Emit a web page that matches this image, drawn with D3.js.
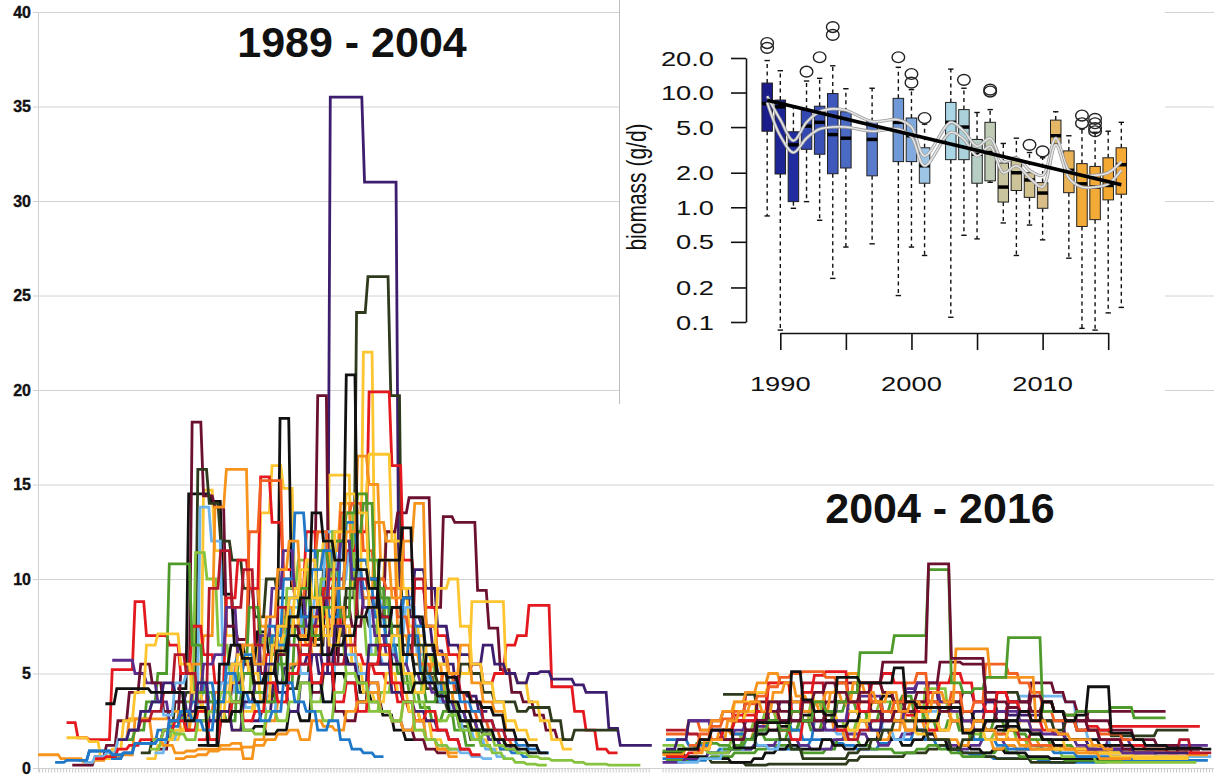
<!DOCTYPE html>
<html>
<head>
<meta charset="utf-8">
<script src="https://cdn.jsdelivr.net/npm/d3@7"></script>
<style>
  body { margin: 0; background: #fff; }
  svg { display: block; font-family: "Liberation Sans", Arial, Helvetica, sans-serif; }
</style>
</head>
<body>
<svg id="chart" width="1214" height="776"></svg>
<script>
// colour keys used by the line series
const colors = {
  mr: '#6b1031', dp: '#3d1d6e', pu: '#5b2e8e', dg: '#2e3a1c', bk: '#111111',
  rd: '#e3191f', cr: '#b3172b', or: '#f26122', og: '#f7941d', gd: '#fdc52f',
  lg: '#86c440', gr: '#4e9b2b', lb: '#6fb6ec', bl: '#1f78c8'
};

const yTicks = [0, 5, 10, 15, 20, 25, 30, 35, 40];
const titles = ['1989 - 2004', '2004 - 2016'];

// [colour, first week index, weekly values]
const leftSeries = [
  ['dp', 18.6, [2.5,3.0,4.5,5.3,5.5,6.0,5.0,35.5,35.5,35.5,31.0,31.0,31.0,9.5,8.0,7.5,6.2,5.5,4.0,3.8,3.0]],
  ['dg', 19.9, [3.8,4.5,4.2,5.0,6.8,7.5,7.0,9.0,24.1,26.0,26.0,19.7,6.5,5.5,4.8,3.5,3.0,2.2,1.5,1.2]],
  ['gd', 9.5, [0.5,1.2,1.5,2.0,3.0,14.7,11.5,7.0,6.0,5.0,13.5,16.0,14.8,9.0,6.5,8.0,15.5,15.5,9.5,22.0,10.0,12.5,9.5,7.5,6.0,5.5,4.0,3.0,2.5,1.5,1.0]],
  ['bk', 12.2, [4.2,14.5,14.5,14.1,9.2,6.5,5.5,7.2,6.0,18.5,9.5,8.0,6.5,10.5,6.0,5.5,4.0,3.5,2.8,2.0,1.5]],
  ['mr', 10.5, [1.0,2.5,5.0,18.3,14.4,13.8,7.5,6.8,9.5,5.0,6.5,8.0,7.0,10.5,19.7,5.5,8.5,7.5,9.0,8.0,12.5,13.5,14.3,14.3,8.5,13.3,13.0,13.0,9.4,7.4,5.2,4.0,3.5,2.8,2.0,1.5]],
  ['dg', 9, [0.8,1.5,2.0,3.5,4.0,15.8,14.0,12.0,11.0,9.5,8.0,10.0,9.0,7.5,6.0,8.0,10.5,9.5,11.0,8.0,7.5,5.5,6.5,4.5,5.0,4.2,3.5,3.0,2.5,2.0,1.8,1.5,1.0]],
  ['lb', 10.2, [0.8,1.5,2.0,3.0,13.8,12.0,5.5,4.0,3.2,3.5,5.0,6.5,8.5,7.0,9.0,12.5,10.0,11.5,9.0,6.0,5.5,7.0,8.5,6.0,4.5,3.5,2.8,2.0,1.5,1.0,0.6]],
  ['lg', 9.8, [1.0,1.5,2.5,3.5,11.4,10.0,6.5,5.0,4.0,6.5,7.0,6.0,9.5,11.0,8.5,10.0,12.5,13.5,8.0,6.0,9.0,7.5,5.0,4.0,6.0,4.5,3.5,2.5,2.0,1.2,0.8,0.5,0.3,0.2,0.15]],
  ['og', 6.5, [0.6,0.7,2.6,2.6,2.6,3.0,2.0,5.5,7.0,13.8,15.8,15.8,9.5,7.5,6.0,8.5,7.0,6.5,9.0,11.5,14.0,10.5,9.0,13.0,12.0,7.0,6.0,5.0,5.5,4.0,3.0,2.5,2.0,1.5,1.0]],
  ['rd', 2.5, [2.4,1.6,1.5,1.5,5.2,5.2,8.8,7.0,7.0,6.5,5.0,7.5,6.0,4.5,9.0,11.0,9.5,15.4,13.0,10.5,9.5,12.5,8.0,10.0,7.5,6.0,5.5,5.0,4.5,3.5,3.0,2.5,2.0]],
  ['rd', 14, [1.5,2.5,3.0,3.5,5.0,4.5,6.0,7.5,8.0,6.5,7.0,9.5,10.0,11.5,12.5,19.9,19.9,16.0,11.0,9.5,8.5,7.0,6.0,5.0,5.5,4.5,5.0,6.5,7.0,8.6,8.6,4.3,4.3,3.0,2.0,1.0,0.8]],
  ['or', 14.5, [3.0,4.0,5.0,6.5,12.5,15.2,15.2,10.0,9.0,11.0,12.5,7.5,13.5,14.0,11.5,10.0,9.5,8.0,7.0,5.5,4.5,5.0,4.0,3.0,2.5,2.0,1.5,1.2]],
  ['gd', 17, [2.0,3.0,4.5,5.0,7.0,7.5,9.0,10.5,12.0,11.0,13.0,14.5,16.6,16.6,12.0,9.5,7.0,6.0,5.5,4.5,5.0,8.8,8.8,8.8,5.0,4.5,3.5,2.5,1.5,1.0]],
  ['gr', 7.5, [1.5,2.0,3.5,5.0,10.8,10.8,6.5,4.0,3.0,2.5,5.5,8.5,7.0,6.0,4.5,7.5,9.0,11.5,10.5,8.0,12.5,14.0,9.5,6.5,5.0,4.0,3.2,2.5,3.0,2.0,1.2]],
  ['bl', 3.5, [0.4,0.9,0.9,0.5,0.8,1.3,1.3,2.0,2.2,3.0,3.5,4.5,3.5,5.5,6.0,5.5,4.5,7.0,10.0,13.5,11.5,9.0,8.0,12.0,10.5,9.5,8.0,6.5,5.5,7.0,5.0,4.5,3.5,3.0,2.5,2.0,1.5,1.0,0.8,0.6]],
  ['pu', 6.5, [5.7,5.7,5.0,4.5,3.5,2.5,2.8,4.0,5.5,6.0,8.5,6.0,5.0,7.0,9.5,11.5,9.0,7.5,8.5,10.5,12.0,10.0,8.5,7.0,6.0,5.5,5.0,4.5,4.0,3.5,3.0,2.5,2.0,1.5,1.2,1.0]],
  ['dp', 30, [7.0,8.5,9.0,10.5,9.5,7.5,6.5,6.0,5.5,6.5,5.5,5.0,4.5,5.0,5.1,4.7,4.7,4.4,4.0,4.0,2.1,1.2,1.2,1.2]],
  ['dg', 25, [5.0,6.5,9.5,11.0,10.0,8.0,7.5,9.0,6.5,5.0,4.5,4.0,5.5,5.0,4.0,3.5,3.5,3.0,3.2,3.2,2.5,1.5,2.0,2.0,2.0,2.0]],
  ['lg', 24, [3.5,5.0,6.5,5.0,4.5,3.0,4.0,5.5,4.5,3.5,3.0,2.5,2.8,2.0,1.5,1.8,1.2,1.0,0.8,0.6,0.5,0.4,0.4,0.3,0.2,0.2,0.15,0.15,0.15]],
  ['mr', 3, [0.15,0.15,0.6,1.2,2.5,4.0,5.5,4.5,3.0,3.5,2.0,2.5,1.5,3.0,4.5,5.5,4.0,3.5,6.0,7.5,6.0,4.0,5.0,3.0,2.5,3.5,4.5,3.0,2.5,2.0,1.5,1.0,0.8]],
  ['og', 0, [0.7,0.7,0.5,0.5,0.3,0.4,0.8,1.5,2.6,2.6,1.5,1.2,0.8,0.9,1.0,1.0,1.2,1.3,0.5,1.5,2.5,3.5,5.5,7.0,6.0,7.5,8.5,6.5,5.0,4.5,3.0,2.5,3.5,2.0,1.5,1.0,0.6]],
  ['gd', 2.5, [1.6,1.6,1.4,0.5,1.0,2.5,4.0,6.5,7.1,7.1,5.5,4.0,3.0,2.5,4.5,6.0,5.0,3.5,6.5,7.0,9.5,11.0,8.5,6.5,7.5,5.5,4.0,3.5,5.0,4.0,3.0,2.5,1.5,1.0]],
  ['lb', 4, [0.3,0.6,0.8,1.5,2.0,3.0,3.5,2.8,4.5,5.0,3.5,3.0,4.5,5.5,4.0,3.5,3.0,4.5,6.5,5.0,4.5,3.5,5.5,6.0,5.0,4.0,3.0,2.5,2.0,2.5,1.5,1.2,1.0,0.8,0.6,0.5]],
  ['bl', 12, [2.5,3.0,4.5,3.5,2.5,3.5,6.0,5.5,7.5,6.5,9.0,8.0,10.5,11.5,9.5,13.0,11.0,10.0,8.5,7.0,9.0,7.5,6.0,5.0,4.5,3.5,3.0,2.5,2.0,1.5,1.2,1.0,0.8]],
  ['cr', 8, [2.0,2.5,3.0,4.0,6.0,5.0,3.5,9.5,11.5,8.5,10.5,6.5,5.0,8.5,6.5,5.5,7.5,9.0,5.5,6.5,10.0,9.0,8.0,7.0,6.0,10.0,7.5,6.0,5.0,4.0,3.5,2.5,2.0,1.5]],
  ['og', 16, [4.0,5.5,6.5,5.5,8.0,10.5,12.0,9.5,8.0,7.0,9.5,12.5,16.5,15.0,11.0,9.0,12.0,14.0,7.5,6.0,5.0,6.5,4.5,3.5,3.0,2.0]],
  ['gr', 13, [3.0,4.0,3.5,2.5,3.5,5.0,4.0,3.5,5.5,8.0,9.5,7.0,8.5,12.0,13.5,14.5,11.0,9.0,7.0,5.0,4.5,3.5,4.0,3.0,2.5,2.0,2.0]],
  ['gd', 11, [1.5,2.0,3.0,2.0,1.5,3.5,5.5,4.0,3.0,5.0,7.5,9.0,10.5,9.0,7.0,12.5,14.5,13.5,8.5,6.0,7.0,5.0,4.0,6.5,9.5,10.0,7.5,5.5,4.5,3.5,2.5,2.0,1.5]],
  ['bk', 14, [1.2,1.2,2.5,3.0,2.0,2.2,1.8,2.0,3.0,2.5,4.5,3.5,5.0,4.5,3.5,5.5,6.5,5.5,4.0,4.5,6.0,5.0,3.5,3.0,2.5,2.0,1.5,1.2,1.0,0.8]],
  ['dp', 7, [1.5,2.0,3.0,3.5,4.5,4.0,3.0,4.5,2.5,3.0,2.0,3.5,4.5,5.5,4.0,3.0,4.5,6.0,5.0,7.5,5.5,4.5,6.5,5.5,4.0,3.5,3.0,2.5,2.0,1.5,1.0]],
  ['rd', 5, [0.5,0.6,1.0,1.2,1.5,1.5,2.0,2.5,2.0,3.0,1.5,2.5,3.5,2.5,3.0,4.5,3.5,5.0,6.0,4.5,5.5,3.5,4.5,3.0,5.5,6.5,4.5,3.5,2.5,3.0,2.0,1.5,1.0,0.7]],
  ['og', 12, [0.5,0.6,0.7,0.9,1.0,1.0,1.1,1.2,1.5,1.8,2.0,1.5,2.5,2.2,2.0,3.0,3.5,4.0,3.0,2.5,2.0,2.5,1.5,1.0,0.8]],
  ['lg', 10, [1.5,2.0,1.8,1.5,2.5,3.0,4.0,3.5,2.0,1.8,3.0,2.5,3.5,4.5,3.0,2.5,4.0,5.0,4.5,3.5,3.0,2.5,3.5,2.0,1.5,1.2,1.0]],
  ['bl', 1.5, [0.3,0.4,0.4,0.9,0.9,0.7,0.8,1.3,1.3,1.5,2.5,3.0,2.5,2.0,3.5,5.0,4.0,3.5,2.5,3.0,4.5,3.5,3.0,2.0,2.5,1.5,1.0,0.8,0.6]],
  ['bk', 16, [2.5,3.0,4.0,3.5,5.0,4.5,8.0,9.0,13.5,12.0,11.0,20.8,10.5,9.5,7.5,8.5,6.0,5.0,4.5,3.8,3.0,2.5,2.0]],
  ['bk', 5.9, [3.4,4.2,4.2,4.2,4.0,4.0,4.0,2.5,3.2,1.2,5.5,6.5,5.8,4.5,5.0,6.2,7.0,6.8,8.5,6.0,6.5,7.0,8.0,8.5,11.0,11.0,12.7,8.0,6.5,5.0,4.8,4.0,3.5,3.2,2.8,2.0,1.5,1.2,0.8]]
];

const rightSeries = [
  ['bl', 54.7, [0.5,0.5,0.4,0.4,0.8,1.0,1.0,1.0,1.2,1.2,1.0,1.0,1.2,1.5,1.5,1.3,1.2,1.0,1.0,1.3,1.5,1.5,2.0,1.5,1.2,1.0,0.8,0.7,0.6,0.5,0.5,0.5,0.5,0.4,0.3,0.3,0.3,0.3,0.3,0.4,0.4,0.4,0.4,0.4,0.4,0.4,0.4,0.4]],
  ['dg', 58, [0.5,0.3,0.3,0.3,0.15,0.15,0.2,0.2,0.2,0.2,0.2,0.2,0.2,0.4,0.6,0.6,0.6,0.6,0.8,0.8,1.0,1.2,1.0,0.8,0.8,0.6,0.5,0.5,0.5,0.3,0.3,0.3,0.3,0.4,0.4,0.5,0.5,0.5,0.5]],
  ['gr', 55, [0.4,0.4,0.5,0.5,0.6,0.6,0.8,0.8,1.0,1.2,1.2,1.0,0.8,0.8,1.0,1.5,1.5,1.2,1.0,1.0,0.8,0.8,1.0,1.2,1.0,0.8,0.6,0.6,0.8,1.0,0.8,0.6,0.5,0.5,0.5,0.4,0.4,0.4,0.4,0.4,0.5,0.5,0.5,0.5,0.5,0.5]],
  ['pu', 54.7, [0.3,0.3,0.5,0.5,0.8,0.8,1.0,1.0,1.2,1.2,1.5,1.5,1.2,1.0,1.0,1.5,1.8,1.8,1.5,1.2,1.5,1.8,2.0,1.8,1.5,1.2,1.0,1.2,1.5,1.5,1.2,1.0,1.0,1.2,1.2,1.2,1.0,1.0,1.0,1.5,1.5,1.2,1.2,1.2,1.2,1.2,1.2,1.2]],
  ['bk', 54.7, [0.8,0.8,0.6,0.6,0.5,0.5,0.3,0.3,0.5,0.8,1.0,1.2,1.0,1.0,1.5,1.2,1.0,1.2,1.5,2.0,1.5,1.2,1.5,1.8,1.5,1.0,1.2,1.0,0.8,1.0,0.8,0.8,0.6,0.6,0.5,0.5,0.5,0.5,0.5,0.5,0.5]],
  ['lb', 56, [0.3,0.3,0.5,0.5,1.0,1.0,1.5,1.2,1.0,1.5,2.0,2.5,2.0,2.0,1.8,1.5,2.0,2.5,2.0,1.5,2.0,2.5,3.0,3.5,3.0,2.5,2.0,2.5,3.0,3.5,3.8,3.8,3.8,3.8,3.5,2.0,1.5,1.5,1.0,1.0,0.8,0.8,0.6,0.6,0.6,0.6,0.6]],
  ['og', 54.7, [0.7,0.7,1.0,1.0,1.5,2.0,1.8,1.5,2.0,3.0,2.5,2.0,2.5,3.5,3.0,2.0,1.5,2.5,2.0,1.5,2.0,3.0,2.5,2.0,1.5,1.5,1.2,2.0,1.5,1.0,1.2,1.0,1.5,1.2,1.0,1.2,1.0,1.0,0.8,0.8,0.8,1.0,1.0,1.0,1.0,1.0,0.7,0.7]],
  ['lg', 54.7, [1.2,1.2,1.0,1.0,0.8,0.8,1.5,2.0,2.5,3.0,2.5,2.0,2.5,3.5,3.0,2.5,2.0,2.5,3.0,3.5,3.5,3.0,2.5,4.2,4.2,3.0,2.0,1.8,1.5,1.8,2.0,1.5,1.2,1.0,1.0,0.6,0.6,0.6,0.3,0.3,0.3,0.3,0.3,0.3,0.3,0.3,0.3]],
  ['gr', 54.7, [0.9,0.9,1.0,1.3,1.3,1.2,1.0,1.5,1.8,1.5,1.5,2.0,2.5,2.0,2.5,3.0,3.5,3.0,2.5,3.0,3.5,3.8,3.0,2.5,2.0,2.5,2.0,1.5,2.0,2.5,2.0,1.8,1.5,1.5,1.2,1.2,1.0,1.0,0.8,0.8,0.8,0.8]],
  ['cr', 55, [2.0,2.0,1.8,1.5,2.5,3.0,2.5,4.0,4.0,2.5,2.0,3.0,4.5,4.5,2.5,2.0,1.5,2.0,2.5,3.0,2.5,2.0,3.5,4.0,3.0,2.5,2.0,2.5,3.5,3.0,2.0,1.5,2.0,1.5,1.2,1.0,1.0,1.0,1.0,1.0,0.8,0.8,0.8,0.8,0.8,1.5,0.8,0.8]],
  ['bl', 55, [1.5,1.5,1.2,1.2,1.5,2.0,1.8,1.5,2.0,2.5,2.5,2.0,1.5,2.5,3.0,3.5,3.0,2.5,2.0,2.5,3.0,2.5,2.0,2.5,3.0,2.5,2.0,1.5,1.5,1.2,1.0,1.0,1.2,1.0,0.8,0.8,0.6,0.6,0.6,0.6,0.5,0.5,0.5,0.5,0.5,0.5]],
  ['rd', 55, [0.6,0.6,0.8,1.0,1.5,2.0,2.8,2.8,2.5,3.0,2.0,1.5,2.5,3.5,2.5,2.0,3.0,4.5,3.5,2.5,3.0,2.8,2.5,2.0,3.5,3.0,2.5,2.0,2.5,3.0,3.5,3.0,2.5,2.0,1.8,2.5,2.5,2.0,1.5,1.5,1.2,1.2,1.0,1.0,0.8,0.8,0.8]],
  ['or', 55, [1.8,1.8,2.5,2.0,1.5,2.0,2.5,3.0,2.5,2.0,2.5,3.0,2.5,2.0,3.0,3.5,3.0,3.5,4.5,4.0,3.0,2.5,3.0,2.5,2.0,2.5,3.0,2.5,2.0,1.8,1.5,1.5,1.2,1.2,1.0,1.0,1.0,0.8,0.8,1.2,1.2,0.8,0.8,0.8,0.8,0.8]],
  ['dp', 55, [1.0,1.5,2.5,2.5,2.0,1.5,1.5,1.5,2.5,3.0,3.5,3.0,2.5,2.0,2.5,3.5,3.0,2.5,2.0,3.0,2.5,4.0,4.5,4.0,3.0,2.5,2.5,3.0,3.5,3.0,2.8,2.8,2.8,2.5,2.5,1.5,1.5,1.2,1.2,1.0,1.0,0.8,0.8,0.8,0.8,0.8]],
  ['gd', 58, [1.0,1.5,2.0,3.5,3.5,4.0,4.5,4.5,3.5,3.0,2.5,3.0,3.5,3.0,2.5,3.5,4.0,3.0,2.5,3.0,2.5,3.5,2.5,2.0,2.5,2.0,1.5,2.0,2.5,2.0,1.5,1.5,1.0,1.0,1.2,1.0,0.8,0.8,0.5,0.5,0.5,0.5,0.5]],
  ['gd', 60, [2.0,2.5,3.0,3.5,3.0,2.5,3.0,4.0,3.5,3.0,2.5,2.0,2.5,3.5,4.0,3.0,2.0,1.8,2.5,2.0,3.0,2.5,2.0,1.5,1.5,1.5,1.2,1.0,1.0,1.0,1.0,0.8,0.8,0.8,0.6,0.6,0.6,0.6,0.6,0.6,0.6]],
  ['pu', 57, [2.5,2.5,2.0,1.5,2.0,2.5,2.2,2.0,2.5,3.5,3.0,2.5,2.0,2.5,3.5,3.8,3.8,3.0,2.5,4.2,4.5,4.5,3.5,3.0,2.5,2.0,2.5,3.0,3.0,2.5,2.0,1.8,1.8,1.5,1.2,1.0,1.0,1.0,0.8,0.8,0.8]],
  ['dg', 60, [3.9,3.9,3.9,3.0,2.5,1.5,1.0,0.5,0.5,0.5,0.5,0.8,1.0,1.5,2.0,2.5,2.5,2.0,1.5,1.5,1.0,1.5,2.0,2.5,4.0,4.0,3.5,3.0,2.5,2.0,2.5,2.0,2.0,2.0,1.7,1.7,1.7,1.7,2.0,2.0,2.0]],
  ['bk', 62, [1.5,1.8,2.0,2.2,2.5,2.8,3.0,2.5,2.2,2.5,3.0,3.5,3.8,3.5,3.0,2.5,2.5,3.0,3.5,3.0,2.5,2.0,2.2,2.5,2.0,1.8,1.5,1.5,1.5,1.5,1.5,1.2,1.2,1.2,1.0,1.0,1.0,1.0,1.0,1.0]],
  ['og', 58, [2.0,2.5,3.0,3.5,4.0,4.5,5.0,4.5,3.5,3.0,3.5,4.0,4.5,5.0,4.0,3.5,3.0,2.5,2.0,3.0,3.5,3.0,2.5,2.0,2.5,2.0,1.5,1.5,1.2,1.0,1.0,1.2,1.0,0.8,0.8,0.5,0.5,0.5]],
  ['mr', 57, [1.0,1.5,1.5,2.0,2.5,2.0,3.5,3.0,2.5,3.0,3.5,2.5,3.0,3.5,4.0,4.5,4.5,4.0,3.5,3.0,3.5,4.5,5.6,5.6,5.5,5.5,4.0,4.0,3.5,3.5,3.0,3.5,3.0,2.8,2.5,3.0,3.0,3.0,3.0,3.0,3.0,3.0]],
  ['mr', 62, [2.0,2.5,3.5,3.5,3.0,2.5,3.0,3.5,4.5,4.5,3.5,3.0,2.5,3.0,3.5,4.0,3.5,3.0,3.5,4.0,3.5,3.0,2.5,3.5,3.5,4.5,4.5,4.0,3.5,3.0,2.5,2.5,2.0,2.0,1.5,1.5,1.2,1.2,1.0,1.0]],
  ['rd', 58, [1.5,1.5,2.0,2.5,2.5,3.0,4.5,4.5,3.0,4.0,4.9,5.1,5.1,3.5,3.0,4.5,5.0,4.5,3.5,3.0,4.0,4.5,5.0,4.5,3.5,3.0,4.0,3.5,3.0,2.5,3.5,3.0,2.5,2.0,2.2,2.0,2.2,2.2,2.2,2.2,2.2,2.2,2.2,2.2]],
  ['or', 57, [1.2,1.8,2.2,2.6,3.0,3.4,3.8,4.3,4.8,5.0,5.1,5.1,4.8,4.5,3.5,4.0,3.5,3.0,3.5,4.5,5.0,3.5,3.2,4.0,3.0,3.5,5.5,5.5,5.0,4.5,4.0,3.0,2.5,2.5,2.0,2.0,1.8,1.8,1.5,1.5]],
  ['og', 57.4, [0.8,1.5,1.5,2.5,3.0,3.5,3.0,4.0,4.5,3.8,3.5,3.0,4.0,3.5,4.5,4.0,3.5,4.0,3.0,3.5,3.0,4.0,3.5,6.3,6.3,6.3,4.8,4.8,4.8,4.8,2.5,2.0,1.8,1.5,1.5,1.2,1.0]],
  ['gr', 60, [1.0,1.2,1.5,2.0,2.5,2.0,3.0,2.5,3.5,3.0,3.5,4.0,6.1,6.1,6.1,7.0,7.0,7.0,10.5,10.5,4.5,4.0,4.2,4.8,4.8,6.9,6.9,6.9,3.0,3.0,2.8,3.0,3.0,3.0,3.2,3.2,2.65,2.65,2.65]],
  ['mr', 60, [1.5,1.5,2.0,2.5,3.5,3.0,2.5,3.5,4.0,4.5,4.0,3.5,4.0,4.5,5.6,5.6,5.6,5.6,10.8,10.8,5.8,5.8,5.8,3.6,3.5,3.2,3.0,3.8,3.5,3.0,2.5,2.5,2.0,1.5,1.5,1.0]],
  ['bk', 56, [1.0,1.0,1.5,2.0,2.0,1.06,1.06,2.4,2.4,2.4,5.1,3.6,3.0,2.8,4.8,4.8,4.5,4.5,4.5,5.3,3.5,3.2,3.2,3.2,3.2,1.85,2.0,2.5,2.5,2.2,2.0,1.8,1.5,1.2]],
  ['bk', 84, [2.0,2.5,3.0,2.5,3.5,3.0,2.5,2.8,4.3,4.3,1.85,1.85,1.5,1.2,1.2,1.05,1.05,1.05,1.0]]
];

// inset box plot: biomass (g/d) per year
const insetYears = [1989,1990,1991,1992,1993,1994,1995,1997,1999,2000,2001,2003,2004,2005,2006,2007,2008,2009,2010,2011,2012,2013,2014,2015,2016];
const boxLow  = [0.84,0.085,0.98,1.12,0.77,0.24,0.45,0.48,0.17,0.45,0.38,0.11,0.57,0.53,1.65,0.73,0.38,0.70,0.52,3.5,0.36,0.088,0.085,0.12,0.134];
const boxQ1   = [4.6,1.95,1.12,3.2,2.9,1.96,2.2,1.88,2.5,2.5,1.62,2.6,2.6,1.62,1.7,1.11,1.4,1.22,0.98,3.6,1.34,0.68,0.78,1.16,1.3];
const boxMed  = [8.0,7.5,3.5,5.1,5.5,4.3,4.0,3.9,5.5,4.2,2.3,5.5,5.0,2.9,3.0,1.5,2.0,1.73,1.33,4.2,2.1,1.6,1.5,1.55,2.35];
const boxQ3   = [12.1,8.6,4.55,7.1,7.6,9.8,6.8,5.6,8.9,6.0,3.3,8.2,7.1,3.9,5.5,2.43,2.6,2.0,1.64,5.75,3.1,2.4,2.27,2.7,3.3];
const boxHigh = [19,15.5,7.6,12.6,13.3,17.1,10.8,10.9,16.6,10.6,5.3,16,10.9,6.7,7.1,3.6,4.0,3.0,2.7,6.8,4.2,4.8,4.5,4.6,5.5];
const boxFill = ['#1b1b8a','#1d2494','#202ca0','#3448b2','#3a52b8','#3e58bc','#4b6ac4','#5a7bcb','#6f98d7','#80aadd','#9cc5e6','#aad6e6','#abd1da','#b7cec4','#bfcbb4','#c8c59e','#cdc398','#d3c18e','#d8be86','#e4b766','#e9b257','#f2aa38','#f3aa36','#f4a933','#f6aa34'];
const outliers = [[1989,24.5],[1989,27],[1992,15.2],[1993,20.3],[1994,31.8],[1994,37.2],[1999,20.3],[2000,12.2],[2000,14.5],[2001,6.0],[2004,12.9],[2006,10.2],[2006,10.6],[2009,3.5],[2010,3.07],[2013,5.4],[2013,6.3],[2014,4.6],[2014,4.9],[2014,5.4],[2014,5.9]];
const bandUpper = [9.3,5.8,3.8,5.5,6.8,7.2,7.0,5.6,5.8,5.0,2.8,5.5,4.6,3.4,4.0,2.5,2.7,2.1,1.9,4.0,2.1,1.9,1.9,2.0,2.5];
const bandLower = [8.2,4.2,3.0,4.0,4.8,5.0,5.0,4.6,4.8,4.1,2.3,4.5,3.9,2.8,3.4,2.0,2.3,1.8,1.5,3.5,1.8,1.5,1.5,1.6,2.1];
const trendEnds = [[1989, 8.56], [2016, 1.57]];
const insetYTicks = [0.1, 0.2, 0.5, 1, 2, 5, 10, 20];
const insetXTicks = [1990, 1995, 2000, 2005, 2010, 2015];
const insetXLabels = [1990, 2000, 2010];

const svg = d3.select('#chart');
const W = 1214;

const x = d3.scaleLinear().domain([0, 103]).range([38, W]);
const y = d3.scaleLinear().domain([0, 40]).range([768, 12]);

// grid and y axis
const grid = svg.append('g');
grid.selectAll('line.h')
  .data(yTicks)
  .join('line')
  .attr('x1', 33).attr('x2', W)
  .attr('y1', d => y(d) + 0.5).attr('y2', d => y(d) + 0.5)
  .attr('stroke', '#d2d2d2').attr('stroke-width', 1);
grid.append('line')
  .attr('x1', 38.5).attr('x2', 38.5).attr('y1', y(40)).attr('y2', y(0) + 4)
  .attr('stroke', '#d2d2d2');
grid.selectAll('text')
  .data(yTicks)
  .join('text')
  .attr('x', 31).attr('y', d => y(d))
  .attr('dy', '0.36em')
  .attr('text-anchor', 'end')
  .attr('font-weight', 'bold')
  .style('font-size', '16px').style('fill', '#111')
  .style('stroke', '#111').style('stroke-width', 0.35)
  .text(d => d);

// minor week ticks along the bottom of both panels
[[0.1, 53.6], [54.7, 103]].forEach(([a, b]) => {
  const ax = svg.append('g')
    .attr('transform', `translate(0,${y(0) + 0.5})`)
    .call(d3.axisBottom(x).tickValues(d3.range(a, b, 0.263)).tickSize(4).tickFormat(''));
  ax.select('.domain').remove();
  ax.selectAll('.tick line').attr('stroke', '#bdbdbd').attr('stroke-width', 0.8);
});

// step lines
const line = d3.line().x(d => x(d[0])).y(d => y(d[1]));
function stepPoints(start, vals) {
  return vals.flatMap((v, i) => [[start + i, v], [start + i + 0.76, v]]);
}

svg.append('g')
  .selectAll('path')
  .data(leftSeries.concat(rightSeries))
  .join('path')
  .attr('d', d => line(stepPoints(d[1], d[2])))
  .attr('fill', 'none')
  .attr('stroke', d => colors[d[0]])
  .attr('stroke-width', 2.8);

// panel titles
svg.selectAll('text.title')
  .data(titles)
  .join('text')
  .attr('class', 'title')
  .attr('x', (d, i) => i === 0 ? 352 : 940)
  .attr('y', (d, i) => i === 0 ? 57 : 523)
  .attr('text-anchor', 'middle')
  .style('font-size', '43px').style('font-weight', 'bold').style('fill', '#111')
  .text(d => d);

// ---- inset ----
const inset = svg.append('g');
inset.append('rect').attr('x', 619).attr('y', 0).attr('width', 546).attr('height', 405).attr('fill', '#fff');
inset.append('line').attr('x1', 619.5).attr('x2', 619.5).attr('y1', 0).attr('y2', 404).attr('stroke', '#bdbdbd');

const ix = d3.scaleLinear().domain([1990, 2015]).range([780.3, 1108.2]);
const iy = d3.scaleLog().domain([0.1, 20]).range([322, 58]);
const stretch = 'scale(1.3,1)';

const yAx = inset.append('g')
  .attr('transform', 'translate(746,0)')
  .call(d3.axisLeft(iy).tickValues(insetYTicks).tickSize(15).tickSizeOuter(0).tickFormat(''));
yAx.selectAll('path, line').attr('stroke', '#111').attr('stroke-width', 1.6);

inset.selectAll('text.yl')
  .data(insetYTicks)
  .join('text')
  .attr('class', 'yl')
  .attr('transform', d => `translate(714,${iy(d)}) ${stretch}`)
  .attr('dy', '0.36em')
  .attr('text-anchor', 'end')
  .style('font-size', '21px').style('fill', '#111')
  .text(d3.format('.1f'));

const xAx = inset.append('g')
  .attr('transform', 'translate(0,333)')
  .call(d3.axisBottom(ix).tickValues(insetXTicks).tickSize(17).tickSizeOuter(0).tickFormat(''));
xAx.selectAll('path, line').attr('stroke', '#111').attr('stroke-width', 1.6);

inset.selectAll('text.xl')
  .data(insetXLabels)
  .join('text')
  .attr('class', 'xl')
  .attr('transform', d => `translate(${ix(d)},391) ${stretch}`)
  .attr('text-anchor', 'middle')
  .style('font-size', '21px').style('fill', '#111')
  .text(d => d);

inset.append('text')
  .attr('transform', `translate(646,187) ${stretch} rotate(-90)`)
  .attr('text-anchor', 'middle')
  .style('font-size', '21px').style('fill', '#111')
  .text('biomass (g/d)');

const boxes = insetYears.map((yr, i) => ({
  yr, lo: boxLow[i], q1: boxQ1[i], med: boxMed[i], q3: boxQ3[i], hi: boxHigh[i], fill: boxFill[i]
}));
const bw = 10.5;

const bg = inset.append('g');
// whiskers
bg.selectAll('line.wu')
  .data(boxes).join('line')
  .attr('x1', d => ix(d.yr)).attr('x2', d => ix(d.yr))
  .attr('y1', d => iy(d.q3)).attr('y2', d => iy(d.hi))
  .attr('stroke', '#111').attr('stroke-width', 1.4).attr('stroke-dasharray', '4,3.5');
bg.selectAll('line.wl')
  .data(boxes).join('line')
  .attr('x1', d => ix(d.yr)).attr('x2', d => ix(d.yr))
  .attr('y1', d => iy(d.q1)).attr('y2', d => iy(d.lo))
  .attr('stroke', '#111').attr('stroke-width', 1.4).attr('stroke-dasharray', '4,3.5');
['hi', 'lo'].forEach(k => {
  bg.append('g').selectAll('line')
    .data(boxes).join('line')
    .attr('x1', d => ix(d.yr) - 2.7).attr('x2', d => ix(d.yr) + 2.7)
    .attr('y1', d => iy(d[k])).attr('y2', d => iy(d[k]))
    .attr('stroke', '#111').attr('stroke-width', 1.4);
});
// boxes
bg.append('g').selectAll('rect')
  .data(boxes).join('rect')
  .attr('x', d => ix(d.yr) - bw / 2)
  .attr('width', bw)
  .attr('y', d => iy(d.q3))
  .attr('height', d => iy(d.q1) - iy(d.q3))
  .attr('fill', d => d.fill)
  .attr('stroke', '#222').attr('stroke-width', 1);
bg.append('g').selectAll('line')
  .data(boxes).join('line')
  .attr('x1', d => ix(d.yr) - bw / 2).attr('x2', d => ix(d.yr) + bw / 2)
  .attr('y1', d => iy(d.med)).attr('y2', d => iy(d.med))
  .attr('stroke', '#000').attr('stroke-width', 3.5);

// grey band lines
const bandLine = d3.line().curve(d3.curveCatmullRom).x(d => ix(d[0])).y(d => iy(d[1]));
[bandUpper, bandLower].forEach(band => {
  inset.append('path')
    .attr('d', bandLine(insetYears.map((yr, i) => [yr, band[i]])))
    .attr('fill', 'none').attr('stroke', '#9a9a9a').attr('stroke-width', 3.2);
  inset.append('path')
    .attr('d', bandLine(insetYears.map((yr, i) => [yr, band[i]])))
    .attr('fill', 'none').attr('stroke', '#e6e6e6').attr('stroke-width', 1.6);
});

// trend
inset.append('path')
  .attr('d', d3.line().x(d => ix(d[0])).y(d => iy(d[1]))(trendEnds))
  .attr('fill', 'none').attr('stroke', '#000').attr('stroke-width', 3.6);

// outliers
inset.append('g').selectAll('ellipse')
  .data(outliers).join('ellipse')
  .attr('cx', d => ix(d[0])).attr('cy', d => iy(d[1]))
  .attr('rx', 6.3).attr('ry', 5.4)
  .attr('fill', 'none').attr('stroke', '#222').attr('stroke-width', 1.4);
</script>
</body>
</html>
